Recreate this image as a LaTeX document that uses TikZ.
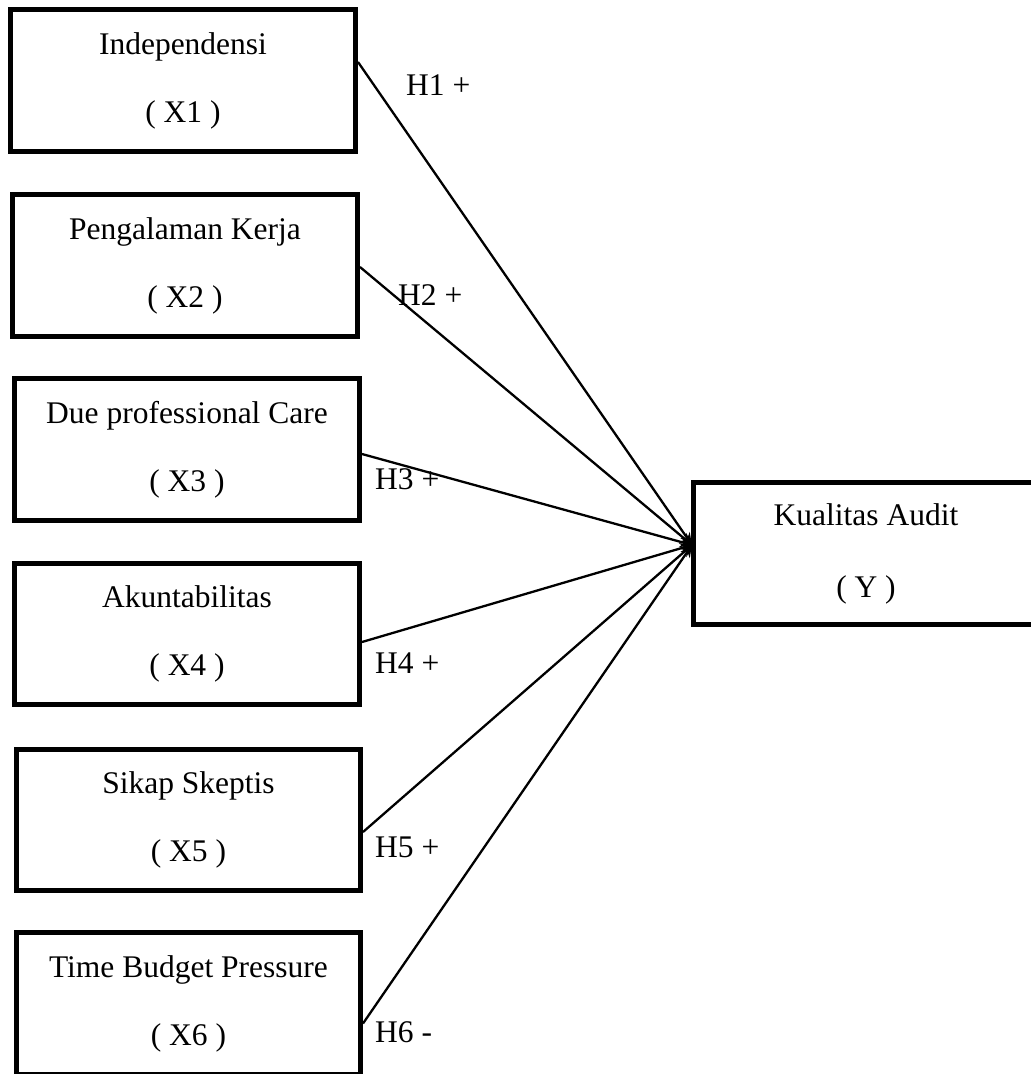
\documentclass[tikz,border=0pt]{standalone}
\usepackage{fontspec}
\setmainfont{Liberation Serif}
\usetikzlibrary{arrows.meta}
\begin{document}
\begin{tikzpicture}[x=1pt,y=-1pt,
  varbox/.style={draw=black, line width=5pt, minimum width=345pt, minimum height=142pt,
    inner sep=0pt, align=center, font=\fontsize{31.5}{68}\selectfont},
  hyp/.style={anchor=base west, inner sep=0pt, font=\fontsize{31.5}{38}\selectfont},
  conn/.style={line width=2.3pt, -{Stealth[length=12pt,width=11pt]}}]
\useasboundingbox (0,0) rectangle (1031,1074);
\node[varbox] (x1) at (183,80.5) {Independensi\\( X1 )};
\node[varbox] (x2) at (185,265.5) {Pengalaman Kerja\\( X2 )};
\node[varbox] (x3) at (187,449.5) {Due professional Care\\( X3 )};
\node[varbox, minimum height=141pt] (x4) at (187,634) {Akuntabilitas\\( X4 )};
\node[varbox, minimum width=344pt, minimum height=141pt] (x5) at (188.5,820) {Sikap Skeptis\\( X5 )};
\node[varbox, minimum width=344pt] (x6) at (188.5,1003.5) {Time Budget Pressure\\( X6 )};
\node[varbox, font=\fontsize{31.5}{72}\selectfont] (y) at (866,553.5) {Kualitas Audit\\( Y )};
\coordinate (tip) at (692,545);
\draw[conn] ([yshift=18.5pt]x1.east) -- (tip);
\draw[conn] ([yshift=-1.5pt]x2.east) -- (tip);
\draw[conn] ([yshift=-4.5pt]x3.east) -- (tip);
\draw[conn] ([yshift=-8pt]x4.east) -- (tip);
\draw[conn] ([yshift=-12pt]x5.east) -- (tip);
\draw[conn] ([yshift=-20pt]x6.east) -- (tip);
\node[hyp] (h1) at (406,95) {H1 +};
\node[hyp] (h2) at (398,305) {H2 +};
\node[hyp] (h3) at (375,489) {H3 +};
\node[hyp] (h4) at (375,673) {H4 +};
\node[hyp] (h5) at (375,857) {H5 +};
\node[hyp] (h6) at (375,1042) {H6 -};
\end{tikzpicture}
\end{document}
